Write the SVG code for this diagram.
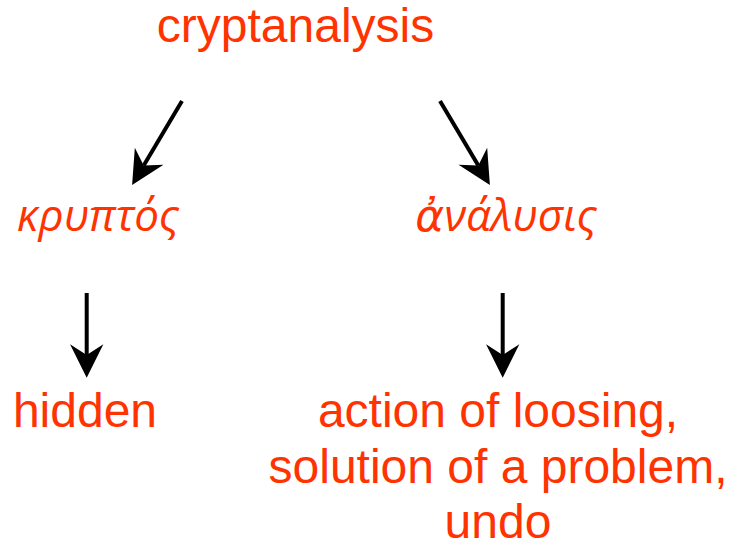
<svg xmlns="http://www.w3.org/2000/svg" width="731" height="543" viewBox="0 0 731 543">
<defs>
<style>
.t{fill:#ff3300;font-family:"Liberation Sans",Arial,sans-serif;font-size:48px;text-anchor:middle}
.g{fill:#ff3300;font-family:"Open Sans","DejaVu Sans",sans-serif;font-style:italic;font-size:44px;text-anchor:middle}
.c{stroke:#000;stroke-width:4;fill:none}
</style>
<marker id="ah" markerUnits="userSpaceOnUse" orient="auto" refX="0" refY="0" markerWidth="40" markerHeight="40" viewBox="-10 -14 30 28" overflow="visible">
<path d="M17,0 L-8,-12.5 L0,0 L-8,12.5 Z" fill="#000"/>
</marker>
</defs>
<rect width="731" height="543" fill="#fff"/>
<g id="connectors">
<line class="c" x1="182" y1="101" x2="143.7" y2="165.4" marker-end="url(#ah)"/>
<line class="c" x1="440" y1="101" x2="478.3" y2="165.4" marker-end="url(#ah)"/>
<line class="c" x1="86.7" y1="293" x2="86.7" y2="355" marker-end="url(#ah)"/>
<line class="c" x1="502.7" y1="293" x2="502.7" y2="355" marker-end="url(#ah)"/>
</g>
<g id="cryptanalysis"><text class="t" x="295.5" y="42">cryptanalysis</text></g>
<g id="kryptos"><text class="g" x="98" y="231">κρυπτός</text></g>
<g id="analysis"><text class="g" x="506" y="231">ἀνάλυσις</text></g>
<g id="hidden"><text class="t" x="85" y="427">hidden</text></g>
<g id="meaning"><text class="t" x="498" y="427">action of loosing,</text><text class="t" x="498" y="482.5">solution of a problem,</text><text class="t" x="498" y="538">undo</text></g>
</svg>
